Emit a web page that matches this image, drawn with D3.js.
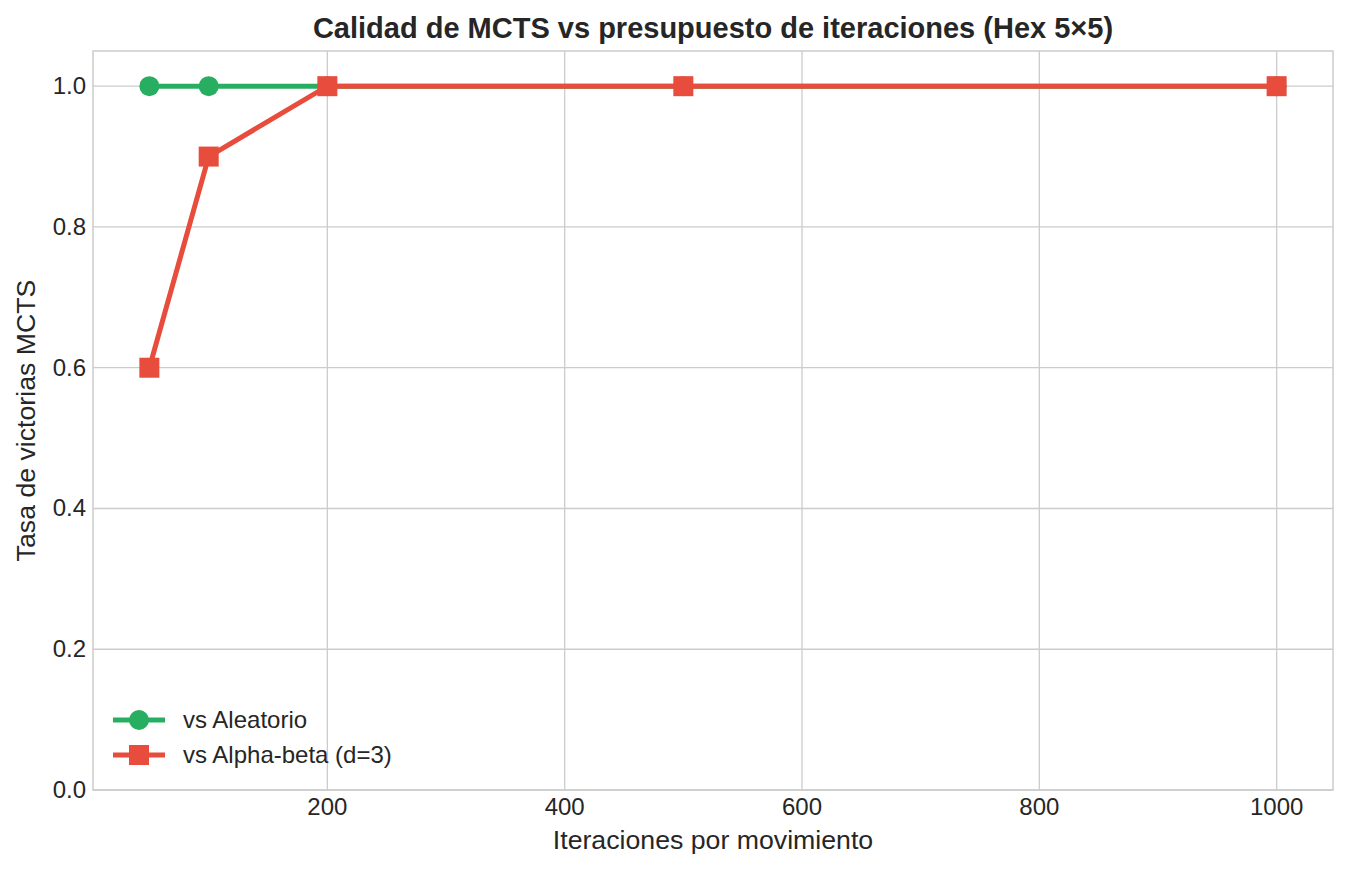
<!DOCTYPE html>
<html><head><meta charset="utf-8">
<script src="https://cdn.jsdelivr.net/npm/d3@7"></script>
<style>body{margin:0;background:#fff}text{font-family:"Liberation Sans",Arial,sans-serif;fill:#262626}</style>
</head><body><svg id="c" width="1348" height="871"></svg>
<script>
const iterations=[50,100,200,500,1000];
const vsRandom=[1.0,1.0,1.0,1.0,1.0];
const vsAlphaBeta=[0.6,0.9,1.0,1.0,1.0];
const xTicks=[200,400,600,800,1000];
const yTicks=[0,0.2,0.4,0.6,0.8,1.0];
const series=[
 {name:"vs Aleatorio",values:vsRandom,color:"#27ae60",shape:"circle"},
 {name:"vs Alpha-beta (d=3)",values:vsAlphaBeta,color:"#e74c3c",shape:"square"}];
const L=93,R=1333,T=51,B=790;
const svg=d3.select("#c");
const x=d3.scaleLinear().domain([2.5,1047.5]).range([L,R]);
const y=d3.scaleLinear().domain([0,1.05]).range([B,T]);
const g=svg.append("g");
xTicks.forEach(t=>g.append("line").attr("x1",x(t)).attr("x2",x(t)).attr("y1",T).attr("y2",B).attr("stroke","#cccccc").attr("stroke-width",1.3));
yTicks.forEach(t=>g.append("line").attr("x1",L).attr("x2",R).attr("y1",y(t)).attr("y2",y(t)).attr("stroke","#cccccc").attr("stroke-width",1.3));
g.append("rect").attr("x",L).attr("y",T).attr("width",R-L).attr("height",B-T).attr("fill","none").attr("stroke","#cccccc").attr("stroke-width",1.5);
xTicks.forEach(t=>g.append("text").attr("x",x(t)).attr("y",B+25).attr("text-anchor","middle").attr("font-size",24).text(t));
yTicks.forEach(t=>g.append("text").attr("x",L-7).attr("y",y(t)+8).attr("text-anchor","end").attr("font-size",24).text(t.toFixed(1)));
svg.append("text").attr("x",(L+R)/2).attr("y",849).attr("text-anchor","middle").attr("font-size",26.7).text("Iteraciones por movimiento");
svg.append("text").attr("transform",`translate(35,${(T+B)/2}) rotate(-90)`).attr("text-anchor","middle").attr("font-size",26.7).text("Tasa de victorias MCTS");
svg.append("text").attr("x",(L+R)/2).attr("y",38).attr("text-anchor","middle").attr("font-size",29).attr("font-weight","bold").text("Calidad de MCTS vs presupuesto de iteraciones (Hex 5×5)");
function marker(sel,s,cx,cy,c){
 if(s==="circle") sel.append("circle").attr("cx",cx).attr("cy",cy).attr("r",10).attr("fill",c);
 else sel.append("rect").attr("x",cx-10).attr("y",cy-10).attr("width",20).attr("height",20).attr("fill",c);
}
const line=d3.line().x((d,i)=>x(iterations[i])).y(d=>y(d));
series.forEach(s=>{
 g.append("path").attr("d",line(s.values)).attr("fill","none").attr("stroke",s.color).attr("stroke-width",5);
 s.values.forEach((v,i)=>marker(g,s.shape,x(iterations[i]),y(v),s.color));
});
series.forEach((s,i)=>{
 const cy=720+i*35;
 svg.append("line").attr("x1",113).attr("x2",165).attr("y1",cy).attr("y2",cy).attr("stroke",s.color).attr("stroke-width",5);
 marker(svg,s.shape,139,cy,s.color);
 svg.append("text").attr("x",183).attr("y",cy+8).attr("font-size",24).text(s.name);
});
</script></body></html>
